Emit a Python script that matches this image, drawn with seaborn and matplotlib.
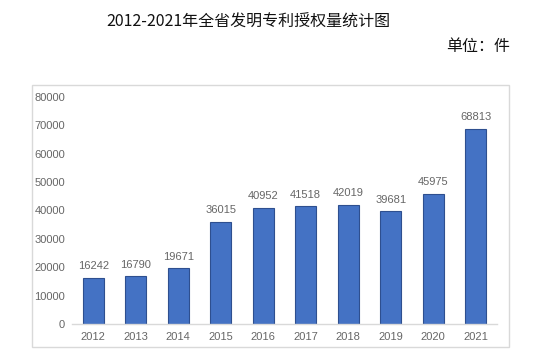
import matplotlib
matplotlib.use("Agg")
import matplotlib.pyplot as plt
import seaborn as sns
import pandas as pd
from matplotlib.patches import Rectangle

years = ["2012", "2013", "2014", "2015", "2016", "2017", "2018", "2019", "2020", "2021"]
grants = [16242, 16790, 19671, 36015, 40952, 41518, 42019, 39681, 45975, 68813]
y_ticks = [0, 10000, 20000, 30000, 40000, 50000, 60000, 70000, 80000]

sns.set_theme(style="white")
plt.rcParams["font.family"] = ["Noto Sans CJK SC", "DejaVu Sans"]

df = pd.DataFrame({"year": years, "grants": grants})
num_font = "Liberation Sans"
gray = "#666666"

W, H = 550, 358
fig = plt.figure(figsize=(W / 100, H / 100), dpi=100)
# axes: x 72..497, y 97..324 (pixels)
ax = fig.add_axes([72 / W, 1 - 324 / H, (497 - 72) / W, (324 - 97) / H])

sns.barplot(data=df, x="year", y="grants", color="#4472C4", width=0.49,
            edgecolor="#2E4F8F", linewidth=0.8, saturation=1, ax=ax)

# value labels
for i, v in enumerate(grants):
    ax.text(i, v + 2300, str(v), ha="center", va="bottom", fontsize=8,
            color=gray, family=num_font)

ax.set_ylim(0, 80000)
ax.set_yticks(y_ticks)
ax.set_yticklabels([str(t) for t in y_ticks], fontsize=8, color=gray,
                   family=num_font)
ax.tick_params(axis="x", labelsize=8, labelcolor=gray, length=0, pad=6)
ax.tick_params(axis="y", length=0, pad=5)
for lab in ax.get_xticklabels():
    lab.set_family(num_font)
ax.set_xlabel("")
ax.set_ylabel("")
for s in ["top", "right", "left"]:
    ax.spines[s].set_visible(False)
ax.spines["bottom"].set_color("#D9D9D9")
ax.spines["bottom"].set_linewidth(1)

# outer chart frame
fig.patches.append(Rectangle((32 / W, 1 - 347 / H), (509 - 32) / W, (347 - 85) / H,
                             transform=fig.transFigure, fill=False,
                             edgecolor="#D9D9D9", linewidth=1))

fig.text(248 / W, 1 - 22 / H, "2012-2021年全省发明专利授权量统计图",
         ha="center", va="center", fontsize=11.5, color="#111111")
fig.text(510 / W, 1 - 47 / H, "单位：件", ha="right", va="center",
         fontsize=11.5, color="#111111")

fig.savefig("out.png", dpi=100)
